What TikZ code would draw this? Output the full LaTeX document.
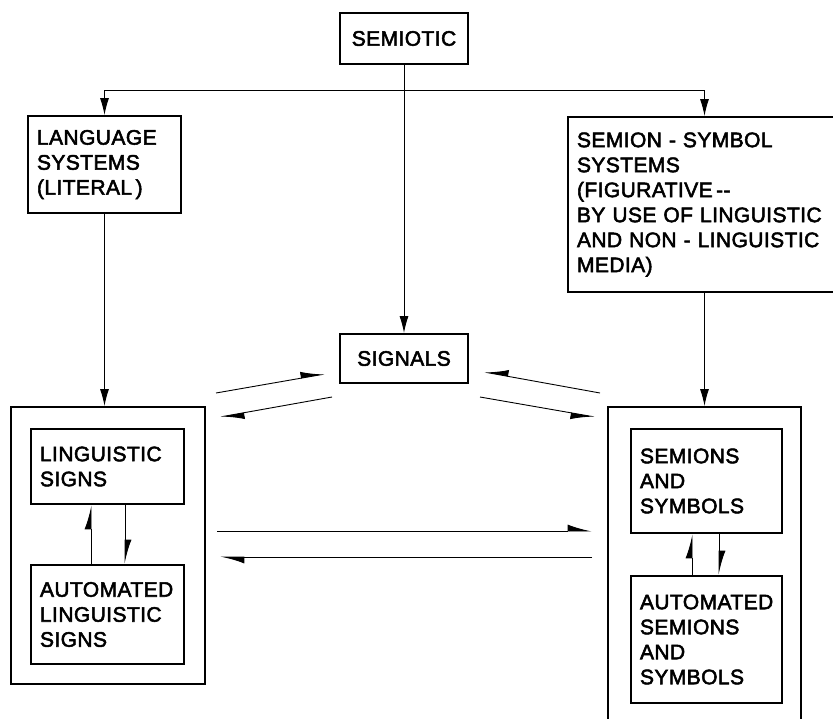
\documentclass[tikz,border=0pt]{standalone}
\usepackage{fontspec}
\setmainfont{Liberation Sans}[BoldFont=Liberation Sans, BoldFeatures={FakeBold=2.5, LetterSpace=2}]
\usetikzlibrary{positioning,calc,arrows.meta}

\begin{document}
\begin{tikzpicture}[x=1pt,y=-1pt,
    box/.style={draw, line width=2pt, inner xsep=9pt, inner ysep=0pt, align=left,
        anchor=north west, font=\fontsize{21}{25}\selectfont\bfseries},
    conn/.style={line width=0.9pt},
    full/.style={conn, -{Latex[length=17pt,width=9pt]}},
    harp/.style={conn, -{Latex[harpoon,length=22pt,width=13pt]}},
    harpr/.style={conn, -{Latex[harpoon,swap,length=22pt,width=13pt]}}]
    \clip (0,0) rectangle (833,718);
    \node[box, text width=110pt, minimum height=51pt, align=center] (semiotic) at (339,12) {SEMIOTIC};
    \node[box, text width=135pt, minimum height=97pt] (language) at (27,115) {LANGUAGE\\SYSTEMS\\(LITERAL\,)};
    \node[box, text width=260pt, minimum height=175pt] (semion) at (567,116)
        {SEMION - SYMBOL\\SYSTEMS\\(FIGURATIVE\,-{}-\\BY USE OF LINGUISTIC\\AND NON - LINGUISTIC\\MEDIA)};
    \node[box, text width=110pt, minimum height=49pt, align=center, below=268pt of semiotic] (signals) {SIGNALS};
    \node[box, text width=176pt, minimum height=277pt] (leftouter) at (10,406) {};
    \node[box, text width=135pt, minimum height=75pt] (lingsigns) at (30,428) {LINGUISTIC\\SIGNS};
    \node[box, text width=135pt, minimum height=99pt, below=59pt of lingsigns] (autoling) {AUTOMATED\\LINGUISTIC\\SIGNS};
    \node[box, text width=175pt, minimum height=340pt] (rightouter) at (607,406) {}; %
    \node[box, text width=133pt, minimum height=104pt] (semsym) at (630,428) {SEMIONS\\AND\\SYMBOLS};
    \node[box, text width=133pt, minimum height=127pt, below=41pt of semsym] (autosem) {AUTOMATED\\SEMIONS\\AND\\SYMBOLS};
    \coordinate (split) at ($(semiotic.south)+(0,25)$);
    % tree
    \draw[full] (semiotic) -- (signals);
    \draw[full] (split) -| (language);
    \draw[full] (split) -| (semion.north -| rightouter.north);
    \draw[full] (language.south) -- (language.south |- leftouter.north);
    \draw[full] (semion.south -| rightouter.north) -- (rightouter.north);
    % signals
    \draw[harp] ($(leftouter.north east)+(10,-13)$) -- ($(signals.west)+(-14,15.5)$);
    \draw[harp] ($(signals.south west)+(-7,13)$) -- ($(leftouter.north east)+(14,11)$);
    \draw[harpr] ($(rightouter.north west)+(-7,-13)$) -- ($(signals.east)+(15,13.5)$);
    \draw[harpr] ($(signals.south east)+(11,13)$) -- ($(rightouter.north west)+(-12,11)$);
    % across
    \draw[harp] ($(leftouter.east)+(11,-14.5)$) -- ($(rightouter.west |- leftouter.east)+(-15,-14.5)$);
    \draw[harp] ($(rightouter.west |- leftouter.east)+(-15,11.5)$) -- ($(leftouter.east)+(14,11.5)$);
    % inside
    \draw[harp] ([xshift=-16.5pt]autoling.north) -- ([xshift=-16.5pt]lingsigns.south);
    \draw[harp] ([xshift=17.5pt]lingsigns.south) -- ([xshift=17.5pt]autoling.north);
    \draw[harp] ([xshift=-14.5pt]autosem.north) -- ([xshift=-14.5pt]semsym.south);
    \draw[harp] ([xshift=12.5pt]semsym.south) -- ([xshift=12.5pt]autosem.north);
\end{tikzpicture}
\end{document}
